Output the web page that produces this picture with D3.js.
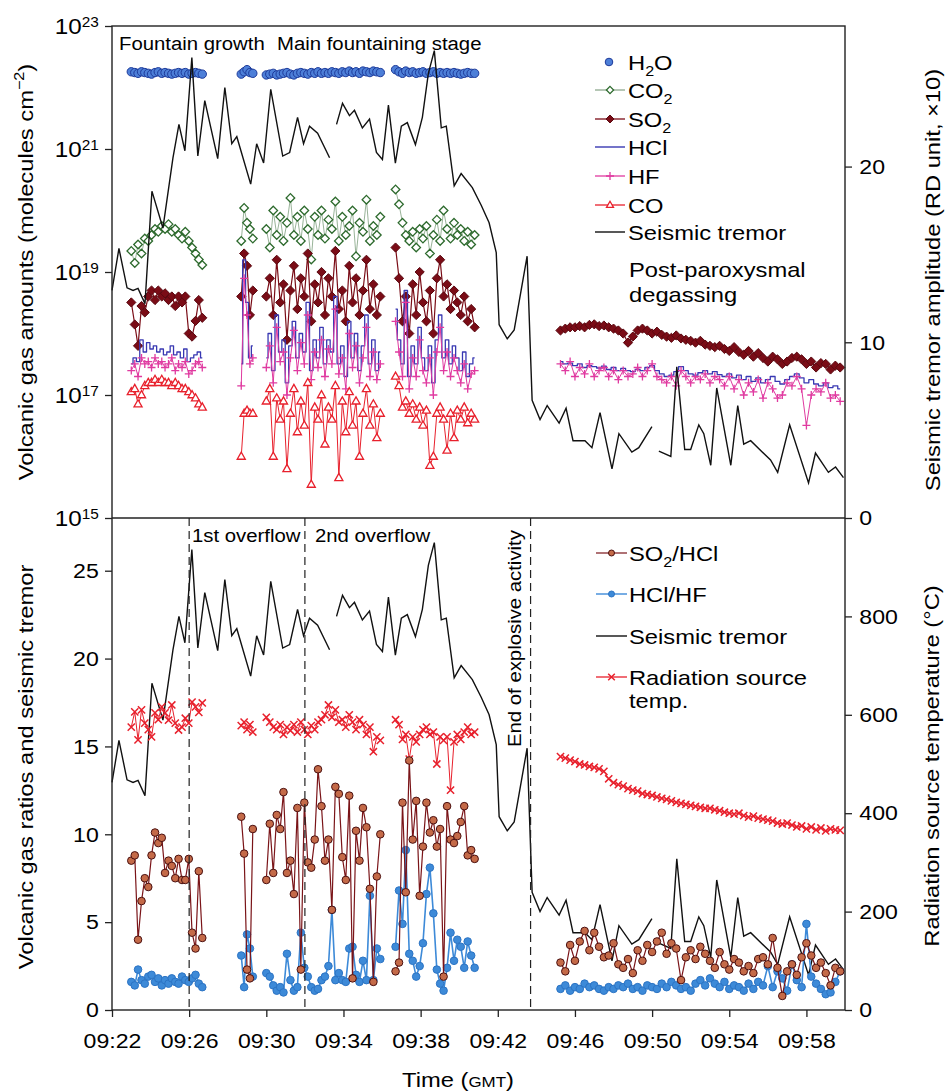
<!DOCTYPE html>
<html><head><meta charset="utf-8">
<script src="https://cdn.jsdelivr.net/npm/d3@7"></script>
<style>
body{margin:0;background:#fff}
svg{display:block}
text{font-family:"Liberation Sans",Arial,Helvetica,sans-serif;fill:#000}
</style></head>
<body><svg id="chart" width="945" height="1092"></svg>
<script>
// ---------------- DATA ----------------
// time in minutes after 09:00 GMT
const tA = [23.00,23.18,23.35,23.53,23.70,23.88,24.05,24.23,24.40,24.58,24.75,24.93,25.10,25.28,25.45,25.63,25.80,25.98,26.15,26.33,26.50,26.68];
const tB = [28.70,28.85,29.00,29.15,29.30];
const tC = [30.00,30.18,30.36,30.54,30.72,30.89,31.07,31.25,31.43,31.61,31.79,31.97,32.15,32.33,32.51,32.68,32.86,33.04,33.22,33.40,33.58,33.76,33.94,34.12,34.30,34.47,34.65,34.83,35.01,35.19,35.37,35.55,35.73,35.91];
const tD = [36.70,36.88,37.06,37.23,37.41,37.59,37.77,37.95,38.12,38.30,38.48,38.66,38.84,39.01,39.19,39.37,39.55,39.73,39.90,40.08,40.26,40.44,40.62,40.80];
const tE = [45.25,45.50,45.75,46.00,46.25,46.50,46.75,47.00,47.25,47.50,47.75,48.00,48.25,48.50,48.75,49.00,49.25,49.50,49.75,50.00,50.25,50.50,50.75,51.00,51.25,51.50,51.75,52.00,52.25,52.50,52.75,53.00,53.25,53.50,53.75,54.00,54.25,54.50,54.75,55.00,55.25,55.50,55.75,56.00,56.25,56.50,56.75,57.00,57.25,57.50,57.75,58.00,58.25,58.50,58.75,59.00,59.25,59.50,59.75];

// gas amounts (molecules cm-2), one sub-array per measurement segment A..E
const h2o = [
 [1.8e22,1.75e22,1.7e22,1.8e22,1.75e22,1.7e22,1.65e22,1.75e22,1.8e22,1.7e22,1.75e22,1.7e22,1.65e22,1.7e22,1.75e22,1.7e22,1.75e22,1.65e22,1.7e22,1.75e22,1.7e22,1.65e22],
 [1.65e22,1.8e22,1.95e22,1.75e22,1.7e22],
 [1.6e22,1.65e22,1.7e22,1.6e22,1.65e22,1.7e22,1.75e22,1.65e22,1.6e22,1.7e22,1.75e22,1.7e22,1.65e22,1.75e22,1.7e22,1.8e22,1.7e22,1.75e22,1.7e22,1.8e22,1.75e22,1.7e22,1.8e22,1.75e22,1.85e22,1.75e22,1.8e22,1.7e22,1.85e22,1.8e22,1.75e22,1.85e22,1.8e22,1.75e22],
 [1.95e22,1.8e22,1.7e22,1.85e22,1.75e22,1.8e22,1.7e22,1.75e22,1.8e22,1.7e22,1.75e22,1.8e22,1.7e22,1.75e22,1.7e22,1.75e22,1.7e22,1.75e22,1.7e22,1.65e22,1.7e22,1.75e22,1.7e22,1.7e22]
];
const co2 = [
 [2.2e19,1.4e19,2.8e19,2.0e19,3.5e19,3.2e19,4.0e19,5.0e19,4.5e19,5.6e19,5.0e19,6.0e19,4.5e19,5.0e19,4.0e19,3.5e19,4.5e19,3.2e19,2.5e19,2.0e19,1.6e19,1.3e19],
 [3.2e19,1.1e20,6.3e19,5.0e19,3.5e19],
 [5.0e19,2.5e19,1.0e20,4.0e19,7.9e19,3.2e19,6.3e19,1.6e20,4.0e19,7.9e19,3.2e19,1.0e20,5.0e19,1.6e19,7.9e19,4.0e19,1.0e20,3.5e19,7.1e19,5.0e19,1.4e20,3.2e19,7.9e19,4.0e19,5.6e19,1.0e20,1.8e19,6.3e19,4.5e19,1.5e20,3.2e19,5.6e19,4.0e19,7.9e19],
 [2.2e20,1.26e20,6.3e19,4.0e19,3.2e19,4.5e19,2.5e19,5.0e19,3.5e19,5.6e19,2.0e19,4.0e19,7.1e19,3.2e19,1.0e20,5.0e19,3.5e19,6.3e19,4.0e19,5.0e19,3.2e19,4.5e19,2.8e19,4.0e19]
];
const so2 = [
 [3.2e18,1.4e18,6.3e17,2.8e18,2.2e18,4.0e18,5.0e18,3.5e18,5.0e18,4.0e18,4.5e18,3.5e18,4.0e18,2.8e18,4.0e18,3.2e18,4.0e18,1.0e18,8.9e17,1.6e18,3.5e18,1.8e18],
 [4.0e18,2.0e19,1.26e19,2.0e18,5.0e18],
 [4.0e18,7.9e18,2.0e18,1.58e19,3.2e18,6.3e18,7.9e17,5.0e18,1.26e19,2.5e18,7.9e18,4.0e18,2.0e19,1.58e18,6.3e18,3.2e18,1.0e19,2.0e18,7.9e18,4.0e18,2.2e19,2.5e18,5.0e18,1.58e18,1.26e19,3.2e18,7.9e18,2.0e18,5.0e18,1.58e19,2.5e18,6.3e18,2.0e18,4.0e18],
 [2.5e19,7.9e18,1.58e18,4.0e18,1.0e18,6.3e18,2.0e18,1.0e19,3.2e18,1.58e18,5.0e18,1.0e18,7.9e18,1.58e19,4.0e18,6.3e18,2.5e18,5.0e18,3.2e18,2.0e18,4.0e18,1.58e18,2.5e18,1.26e18],
 [1.12e18,1.2e18,1.26e18,1.26e18,1.32e18,1.26e18,1.38e18,1.41e18,1.32e18,1.35e18,1.26e18,1.2e18,1.12e18,1.0e18,7.1e17,8.9e17,1.12e18,1.2e18,1.12e18,1.0e18,1.07e18,9.5e17,8.9e17,8.5e17,9.3e17,8.3e17,7.9e17,7.6e17,7.1e17,7.6e17,6.6e17,6.3e17,6.0e17,6.3e17,5.6e17,5.2e17,6.0e17,5.0e17,4.5e17,5.2e17,4.2e17,4.8e17,4.0e17,3.5e17,4.2e17,3.8e17,3.2e17,3.5e17,4.0e17,4.2e17,3.8e17,3.2e17,3.5e17,2.8e17,3.3e17,3.2e17,2.6e17,3.0e17,2.8e17]
];
const hcl = [
 [3.2e17,4.0e17,3.5e17,7.9e17,5.0e17,7.1e17,5.6e17,6.3e17,5.0e17,5.6e17,4.5e17,5.0e17,6.3e17,4.5e17,5.0e17,4.0e17,5.6e17,3.5e17,4.0e17,4.5e17,5.0e17,4.0e17],
 [3.2e17,1.58e19,3.2e18,4.0e17,6.3e17],
 [4.0e17,1.0e18,2.5e17,2.0e18,5.0e17,7.9e17,1.58e17,6.3e17,1.58e18,4.0e17,1.0e18,5.0e17,3.2e18,2.5e17,7.9e17,4.0e17,1.26e18,3.2e17,7.9e17,5.0e17,4.0e18,3.2e17,6.3e17,2.0e17,1.58e18,4.0e17,1.0e18,2.5e17,6.3e17,2.0e18,3.2e17,7.9e17,2.5e17,5.0e17],
 [2.5e18,7.9e17,3.2e17,5.0e18,2.0e17,6.3e17,3.2e17,1.26e18,4.0e17,2.5e17,6.3e17,1.58e17,7.9e17,2.0e18,4.0e17,7.9e17,3.2e17,6.3e17,4.0e17,2.5e17,5.0e17,2.0e17,3.2e17,4.0e17],
 [3.5e17,3.2e17,3.3e17,3.0e17,3.2e17,2.8e17,3.0e17,2.9e17,2.75e17,2.95e17,2.6e17,2.8e17,2.5e17,2.7e17,2.5e17,2.4e17,2.6e17,2.5e17,2.8e17,3.0e17,2.5e17,2.2e17,2.0e17,2.1e17,2.4e17,2.9e17,2.5e17,2.2e17,2.1e17,2.3e17,2.5e17,2.2e17,2.4e17,2.15e17,2.0e17,2.2e17,1.9e17,2.1e17,1.78e17,2.0e17,1.66e17,1.9e17,1.58e17,1.78e17,2.0e17,1.66e17,1.51e17,1.78e17,2.0e17,2.2e17,1.9e17,1.58e17,1.78e17,1.51e17,1.41e17,1.58e17,1.32e17,1.41e17,1.26e17]
];
const hf = [
 [2.5e17,3.2e17,2.0e17,4.0e17,3.2e17,3.5e17,2.8e17,4.0e17,3.2e17,3.5e17,2.8e17,3.2e17,4.0e17,2.5e17,3.2e17,2.8e17,3.5e17,2.2e17,2.5e17,3.2e17,3.5e17,2.8e17],
 [1.41e17,7.9e18,2.0e18,3.2e17,4.0e17],
 [2.8e17,6.3e17,1.58e17,1.26e18,3.5e17,5.0e17,1.0e17,4.0e17,1.12e18,2.5e17,7.1e17,3.2e17,2.0e18,1.78e17,5.0e17,2.8e17,7.9e17,2.0e17,5.6e17,3.2e17,2.5e18,2.2e17,4.0e17,1.26e17,1.0e18,2.8e17,6.3e17,1.58e17,4.0e17,1.26e18,2.0e17,5.0e17,1.78e17,3.2e17],
 [1.58e18,5.0e17,2.0e17,3.2e18,1.26e17,4.0e17,2.0e17,7.9e17,2.5e17,1.58e17,4.0e17,1.0e17,5.0e17,1.26e18,2.5e17,5.0e17,2.0e17,4.0e17,2.5e17,1.58e17,3.2e17,1.26e17,2.2e17,2.5e17],
 [3.2e17,2.5e17,3.5e17,2.0e17,2.8e17,2.2e17,3.2e17,2.0e17,2.5e17,2.8e17,2.0e17,2.5e17,1.78e17,2.5e17,2.0e17,2.2e17,2.8e17,2.0e17,2.5e17,3.2e17,2.0e17,1.78e17,1.58e17,2.0e17,1.41e17,2.5e17,2.0e17,1.58e17,2.0e17,1.78e17,2.2e17,1.58e17,2.0e17,1.78e17,1.41e17,2.0e17,1.26e17,1.78e17,1.0e17,1.58e17,1.12e17,1.78e17,8.9e16,1.58e17,1.26e17,8.9e16,1.0e17,1.58e17,1.41e17,2.0e17,1.26e17,3.2e16,1.0e17,1.26e17,1.12e17,1.58e17,8.9e16,1.0e17,7.9e16]
];
const co = [
 [1.12e17,1.26e17,7.1e16,1.0e17,1.41e17,1.58e17,1.58e17,1.78e17,1.58e17,1.78e17,1.58e17,1.58e17,1.41e17,1.58e17,1.41e17,1.26e17,1.26e17,1.12e17,1.0e17,8.9e16,7.1e16,6.3e16],
 [1.0e16,5.0e16,5.6e16,5.0e16,5.0e16],
 [7.9e16,1.26e17,1.0e16,8.9e16,4.0e16,7.9e16,6.3e15,5.0e16,1.26e17,2.5e16,7.9e16,3.2e16,1.58e17,3.5e15,6.3e16,4.0e16,1.0e17,1.58e16,6.3e16,4.0e16,1.41e17,4.5e15,7.9e16,2.5e16,1.12e17,3.2e16,7.9e16,1.0e16,5.0e16,1.26e17,3.2e16,7.1e16,2.0e16,5.0e16],
 [2.0e17,1.41e17,6.3e16,7.9e16,5.0e16,7.1e16,4.0e16,6.3e16,3.2e16,5.6e16,7.1e15,1.0e16,5.0e16,6.3e16,4.0e16,1.26e16,5.0e16,2.0e16,5.6e16,4.0e16,6.3e16,3.5e16,5.0e16,4.0e16]
];

// gas ratios and radiation source temperature (°C)
const so2hcl = [
 [8.5,8.8,4.0,6.2,7.5,7.0,8.8,10.1,9.5,9.8,7.8,8.5,8.2,7.5,8.6,7.4,7.4,8.6,4.4,3.5,7.9,4.1],
 [11.0,8.9,2.3,1.8,10.3],
 [7.4,10.6,7.8,11.1,10.3,12.4,7.8,8.5,6.6,11.5,2.3,11.8,8.4,8.1,9.7,13.7,11.6,8.5,9.7,5.7,12.7,12.3,8.7,7.4,12.2,1.8,10.2,8.5,11.5,10.4,6.9,1.6,7.6,10.0],
 [2.2,2.7,11.8,6.7,14.2,9.7,11.9,6.5,9.3,11.8,10.1,10.8,9.3,10.3,1.9,11.6,9.7,9.5,9.9,10.7,11.6,8.8,9.1,8.6],
 [2.7,2.2,3.7,2.8,3.9,4.5,3.4,4.4,3.6,3.0,3.1,3.8,2.6,2.4,2.9,2.1,3.4,2.8,3.7,3.3,3.9,4.4,3.2,3.8,3.5,1.7,3.0,3.4,2.9,3.6,3.2,2.8,2.4,3.3,2.6,2.3,2.9,2.7,2.2,2.5,2.1,2.9,3.0,2.6,4.1,2.4,0.8,2.2,2.6,2.0,3.0,3.8,3.1,2.4,2.7,2.1,1.4,2.4,2.2]
];
const hclhf = [
 [1.6,1.4,2.3,1.7,1.5,1.9,2.0,1.6,1.8,1.4,1.7,1.5,1.8,1.6,1.5,1.9,1.7,1.6,1.8,2.0,1.5,1.3],
 [3.1,1.3,4.3,3.5,1.9],
 [2.1,1.9,1.4,1.1,1.3,1.0,3.2,1.7,1.1,1.3,4.4,2.4,1.9,1.3,1.1,1.2,1.7,1.9,2.5,5.7,1.7,2.1,1.7,1.6,3.5,3.6,2.0,1.6,2.8,1.7,6.5,1.7,3.5,2.9],
 [3.6,6.8,4.9,9.1,3.2,2.8,1.9,2.5,3.8,6.6,8.1,5.5,2.3,1.5,1.1,2.4,4.4,2.8,4.0,3.6,2.4,3.9,3.1,2.4],
 [1.2,1.4,1.1,1.3,1.2,1.5,1.3,1.4,1.2,1.1,1.3,1.2,1.4,1.3,1.5,1.2,1.3,1.1,1.4,1.3,1.2,1.5,1.3,1.6,1.4,1.2,1.3,1.1,1.5,1.7,1.4,1.8,1.5,1.3,1.6,1.2,1.4,1.3,1.1,1.5,1.2,1.6,1.4,2.5,1.3,2.2,1.8,1.1,2.6,1.7,1.3,4.9,1.9,1.5,1.2,0.9,1.0,1.6,2.2]
];
const radTemp = [
 [575,606,549,610,583,570,555,604,590,616,604,589,620,583,569,575,593,583,626,616,605,624],
 [578,585,570,580,565],
 [595,585,575,570,580,560,575,568,580,565,585,570,560,578,570,585,590,600,620,595,610,585,590,575,600,585,570,590,580,560,575,525,555,548],
 [590,580,550,560,510,555,545,560,570,575,560,565,500,555,548,555,447,545,560,550,565,575,560,565],
 [515,512,508,505,500,498,495,493,490,485,470,462,458,455,450,447,445,440,438,436,433,430,428,425,422,420,418,416,414,412,410,410,407,405,402,400,398,400,395,392,394,390,388,386,384,380,378,380,376,372,374,368,372,366,370,364,368,366,365]
];

// seismic tremor (RD units x10); null = gap in record
const tremorTime = [22.00,22.36,22.78,23.09,23.35,23.71,24.07,24.64,25.16,25.47,25.78,26.14,26.45,26.81,27.48,27.85,28.21,28.47,29.19,29.50,29.86,30.23,30.85,31.21,31.62,31.93,32.24,32.66,33.28,33.46,33.64,33.95,34.31,34.57,34.98,35.35,35.71,36.02,36.33,36.69,37.00,37.31,37.73,38.09,38.40,38.71,39.07,39.33,39.74,40.10,40.68,41.14,41.55,41.92,42.07,42.49,42.85,43.52,43.78,44.19,44.56,45.18,45.54,45.90,46.52,46.88,47.30,47.92,48.28,48.95,49.31,49.99,50.17,50.35,50.97,51.28,51.69,52.00,52.42,52.68,53.04,53.35,54.08,54.44,54.75,55.11,56.14,56.51,57.13,58.11,58.47,59.14,59.51,59.92];
const tremor = [12.95,15.34,13.1,12.95,13.07,12.2,18.6,16.5,20.5,22.4,20.9,26.2,20.6,23.75,20.45,24.5,21.3,21.7,19.0,21.3,20.2,24.4,20.6,20.8,22.8,21.3,22.3,21.9,20.5,null,22.4,23.6,22.9,23.2,22.2,22.7,20.8,20.4,23.5,20.2,22.3,22.5,21.25,22.8,25.3,26.6,22.2,22.3,18.9,19.6,18.8,17.8,16.8,15.1,11.0,10.2,10.7,14.9,6.7,5.6,6.4,5.4,6.25,4.4,4.4,4.0,6.0,2.8,4.8,3.75,4.0,5.2,null,3.8,3.5,8.6,3.9,3.9,5.3,4.8,3.0,7.4,3.0,6.4,4.2,4.4,3.3,2.6,5.3,2.0,3.7,2.6,2.9,2.3];

// axes ticks and labels
const xTicks = [22,26,30,34,38,42,46,50,54,58];
const xTickLabels = ["09:22","09:26","09:30","09:34","09:38","09:42","09:46","09:50","09:54","09:58"];
const gasTicks = [1e15,1e17,1e19,1e21,1e23];
const gasTickExp = ["15","17","19","21","23"];
const tremorTicks = [0,10,20];
const ratioTicks = [0,5,10,15,20,25];
const tempTicks = [0,200,400,600,800];
const eventTimes = [26.0, 32.0, 43.7];

// ---------------- DRAW ----------------
const svg = d3.select('#chart');
const L = 112, R = 845, T1 = 26, B1 = 518, B2 = 1010;
const x = d3.scaleLinear().domain([22,60]).range([L,R]);
const yGas = d3.scaleLog().domain([1e15,1e23]).range([B1,T1]);
const yTremTop = d3.scaleLinear().domain([0,28]).range([B1,T1]);
const yRatio = d3.scaleLinear().domain([0,28]).range([B2,B1]);
const yTemp = d3.scaleLinear().domain([0,1000]).range([B2,B1]);
const segs = [tA,tB,tC,tD,tE];
const SX = 1.13;

const shapes = {
  circle: r => `M${r},0A${r},${r} 0 1,1 ${-r},0A${r},${r} 0 1,1 ${r},0Z`,
  diamond: r => `M0,${-r}L${r},0L0,${r}L${-r},0Z`,
  triangle: r => `M0,${-r}L${r*0.92},${r*0.62}L${-r*0.92},${r*0.62}Z`,
  plus: r => `M${-r},0H${r}M0,${-r}V${r}`,
  cross: r => `M${-r},${-r}L${r},${r}M${-r},${r}L${r},${-r}`
};

function plot(g, yS, vals, st) {
  segs.forEach((ts, i) => {
    const vs = vals[i]; if (!vs) return;
    const pts = ts.map((t,j)=>({t, v: vs[j]})).filter(d => d.v != null);
    if (st.line) g.append('path').datum(pts)
      .attr('fill','none').attr('stroke',st.line).attr('stroke-width',st.lw||1).attr('stroke-linejoin','round')
      .attr('d', d3.line().x(d=>x(d.t)).y(d=>yS(d.v)).curve(st.curve||d3.curveLinear));
    if (st.marker) g.append('g').selectAll('path').data(pts).join('path')
      .attr('transform', d=>`translate(${x(d.t)},${yS(d.v)})`)
      .attr('d', shapes[st.marker](st.r))
      .attr('fill', st.fill||'none').attr('stroke', st.stroke||'none').attr('stroke-width', st.sw||1);
  });
}
function plotTremor(g, yS) {
  const pts = tremorTime.map((t,i)=>({t, v: tremor[i]}));
  g.append('path').datum(pts).attr('fill','none').attr('stroke','#111').attr('stroke-width',1.4)
    .attr('stroke-linejoin','miter')
    .attr('d', d3.line().defined(d=>d.v!=null).x(d=>x(d.t)).y(d=>yS(d.v)));
}

// text helper: parts = strings or {t, sub|sup|size}
function label(parent, px, py, parts, o={}) {
  const g = parent.append('g').attr('transform', `translate(${px},${py})${o.rot!=null?` rotate(${o.rot})`:''} scale(${o.sx||SX},1)`);
  const t = g.append('text').attr('font-size', o.size||21).attr('text-anchor', o.anchor||'start');
  let off = 0;
  (Array.isArray(parts)?parts:[parts]).forEach(p => {
    if (typeof p === 'string') p = {t:p};
    const ts = t.append('tspan').text(p.t);
    let target = 0;
    if (p.sub) { ts.attr('font-size', (o.size||21)*0.68); target = (o.size||21)*0.3; }
    if (p.sup) { ts.attr('font-size', (o.size||21)*0.68); target = -(o.size||21)*0.42; }
    if (p.size) ts.attr('font-size', p.size);
    if (target !== off) { ts.attr('dy', target - off); off = target; }
  });
  return g;
}

// ---- top panel ----
const gTop = svg.append('g');
plot(gTop, yGas, co2, {line:'#7d9f7d', lw:0.8, marker:'diamond', r:4.3, fill:'#fff', stroke:'#2d6a2d', sw:1.3});
plot(gTop, yGas, so2, {line:'#7a0c16', lw:1.2, marker:'diamond', r:4.6, fill:'#7a0c16', stroke:'#5a0810'});
plot(gTop, yGas, hcl, {line:'#3838b2', lw:1.3, curve:d3.curveStep});
plot(gTop, yGas, hf, {line:'#e03aa0', lw:1, marker:'plus', r:4, stroke:'#e03aa0', sw:1.3});
plot(gTop, yGas, co, {line:'#e8202c', lw:1, marker:'triangle', r:4.4, fill:'#fff', stroke:'#e8202c', sw:1.3});
plot(gTop, yGas, h2o, {marker:'circle', r:4.2, fill:'#4d7fd8', stroke:'#1d3a9a', sw:1});
plotTremor(gTop, yTremTop);

// ---- bottom panel ----
const gBot = svg.append('g');
plotTremor(gBot, yRatio);
plot(gBot, yTemp, radTemp, {line:'#e8202c', lw:1, marker:'cross', r:3.6, stroke:'#e8202c', sw:1.5});
plot(gBot, yRatio, hclhf, {line:'#3d8ad8', lw:1.6, marker:'circle', r:3.8, fill:'#3d8ad8', stroke:'#2c74c4'});
plot(gBot, yRatio, so2hcl, {line:'#7a1418', lw:1.2, marker:'circle', r:3.8, fill:'#c46a48', stroke:'#4a1010'});

// event dashed lines
svg.append('g').selectAll('line').data(eventTimes).join('line')
  .attr('x1', d=>x(d)).attr('x2', d=>x(d)).attr('y1', B1).attr('y2', B2)
  .attr('stroke','#222').attr('stroke-width',1.2).attr('stroke-dasharray','8,5');

// ---- axes ----
function styleAxis(g, sx) {
  g.select('.domain').remove();
  g.selectAll('.tick line').attr('stroke','#222').attr('stroke-width',1.3);
  g.selectAll('.tick text').attr('font-size',21).attr('fill','#000')
    .attr('font-family','"Liberation Sans",Arial,sans-serif').attr('transform',`scale(${sx||1.1},1)`);
}
const xAxis = svg.append('g').attr('transform',`translate(0,${B2})`)
  .call(d3.axisBottom(x).tickValues(xTicks).tickFormat((d,i)=>xTickLabels[i]).tickSize(7).tickPadding(16).tickSizeOuter(0));
styleAxis(xAxis);

const gasAxis = svg.append('g').attr('transform',`translate(${L},0)`)
  .call(d3.axisLeft(yGas).tickValues(gasTicks).tickFormat(()=> '').tickSize(7).tickPadding(5).tickSizeOuter(0));
styleAxis(gasAxis);
gasAxis.selectAll('.tick text').each(function(d,i){
  const t = d3.select(this); t.text(null).attr('font-size',22);
  t.append('tspan').text('10');
  t.append('tspan').attr('dy','-0.5em').attr('font-size',14).text(gasTickExp[i]);
});

const ratioAxis = svg.append('g').attr('transform',`translate(${L},0)`)
  .call(d3.axisLeft(yRatio).tickValues(ratioTicks).tickFormat(d3.format('d')).tickSize(7).tickPadding(5).tickSizeOuter(0));
styleAxis(ratioAxis);

const tremAxis = svg.append('g').attr('transform',`translate(${R},0)`)
  .call(d3.axisRight(yTremTop).tickValues(tremorTicks).tickFormat(d3.format('d')).tickSize(7).tickPadding(6).tickSizeOuter(0));
styleAxis(tremAxis);

const tempAxis = svg.append('g').attr('transform',`translate(${R},0)`)
  .call(d3.axisRight(yTemp).tickValues(tempTicks).tickFormat(d3.format('d')).tickSize(7).tickPadding(6).tickSizeOuter(0));
styleAxis(tempAxis);

// frames
const fr = svg.append('g').attr('stroke','#222').attr('stroke-width',1.4).attr('fill','none');
fr.append('rect').attr('x',L).attr('y',T1).attr('width',R-L).attr('height',B2-T1);
fr.append('line').attr('x1',L).attr('x2',R).attr('y1',B1).attr('y2',B1);

// ---- annotations ----
label(svg, 119, 50, 'Fountain growth', {size:18});
label(svg, 277, 50, 'Main fountaining stage', {size:18});
label(svg, 192, 542, '1st overflow', {size:18});
label(svg, 315, 542, '2nd overflow', {size:18});
label(svg, 521, 747, 'End of explosive activity', {size:18, rot:-90});

// axis titles
label(svg, 33, 272, ['Volcanic gas amounts (molecules cm', {t:'\u22122', sup:true}, {t:')'}], {rot:-90, anchor:'middle'});
label(svg, 33, 767, 'Volcanic gas ratios and seismic tremor', {rot:-90, anchor:'middle'});
label(svg, 940, 280, 'Seismic tremor amplitude (RD unit, \u00d710)', {rot:-90, anchor:'middle'});
label(svg, 939, 766, 'Radiation source temperature (\u00b0C)', {rot:-90, anchor:'middle'});
label(svg, 458, 1087, ['Time (', {t:'GMT', size:15}, ')'], {anchor:'middle'});

// ---- legends ----
function legendLine(g, cy, x1, x2, st) {
  if (st.line) g.append('line').attr('x1',x1).attr('x2',x2).attr('y1',cy).attr('y2',cy).attr('stroke',st.line).attr('stroke-width',st.lw||1.2);
  if (st.marker) g.append('path').attr('transform',`translate(${(x1+x2)/2},${cy})`).attr('d',shapes[st.marker](st.r))
    .attr('fill',st.fill||'none').attr('stroke',st.stroke||'none').attr('stroke-width',st.sw||1);
}
const lg1 = svg.append('g');
const topLegend = [
  {cy:62, parts:['H', {t:'2',sub:true}, 'O'], st:{marker:'circle', r:3.8, fill:'#4d7fd8', stroke:'#1d3a9a'}, only:true},
  {cy:90, parts:['CO', {t:'2',sub:true}], st:{line:'#6d8f6d', lw:1, marker:'diamond', r:3.6, fill:'#fff', stroke:'#2d6a2d', sw:1.3}},
  {cy:119, parts:['SO', {t:'2',sub:true}], st:{line:'#7a0c16', lw:1.3, marker:'diamond', r:4, fill:'#7a0c16', stroke:'#5a0810'}},
  {cy:147, parts:['HCl'], st:{line:'#3838b2', lw:1.4}},
  {cy:176, parts:['HF'], st:{line:'#e03aa0', lw:1.3, marker:'plus', r:4, stroke:'#e03aa0', sw:1.3}},
  {cy:205, parts:['CO'], st:{line:'#e8202c', lw:1.3, marker:'triangle', r:3.8, fill:'#fff', stroke:'#e8202c', sw:1.3}},
  {cy:232, parts:['Seismic tremor'], st:{line:'#111', lw:1.4}}
];
topLegend.forEach(it => {
  if (it.only) legendLine(lg1, it.cy, 609, 609, it.st); else legendLine(lg1, it.cy, 595, 625, it.st);
  label(lg1, 628, it.cy+7.5, it.parts);
});
label(lg1, 629, 277, 'Post-paroxysmal');
label(lg1, 629, 302, 'degassing');

const lg2 = svg.append('g');
const botLegend = [
  {cy:553, parts:['SO', {t:'2',sub:true}, '/HCl'], st:{line:'#7a1418', lw:1.2, marker:'circle', r:3, fill:'#c46a48', stroke:'#4a1010'}},
  {cy:594, parts:['HCl/HF'], st:{line:'#3d8ad8', lw:1.4, marker:'circle', r:3, fill:'#3d8ad8', stroke:'#2c74c4'}},
  {cy:636, parts:['Seismic tremor'], st:{line:'#111', lw:1.4}},
  {cy:677, parts:['Radiation source'], st:{line:'#e8202c', lw:1.3, marker:'cross', r:3.3, stroke:'#e8202c', sw:1.5}}
];
botLegend.forEach(it => {
  legendLine(lg2, it.cy, 596, 627, it.st);
  label(lg2, 629, it.cy+7.5, it.parts);
});
label(lg2, 629, 708, 'temp.');
</script></body></html>
